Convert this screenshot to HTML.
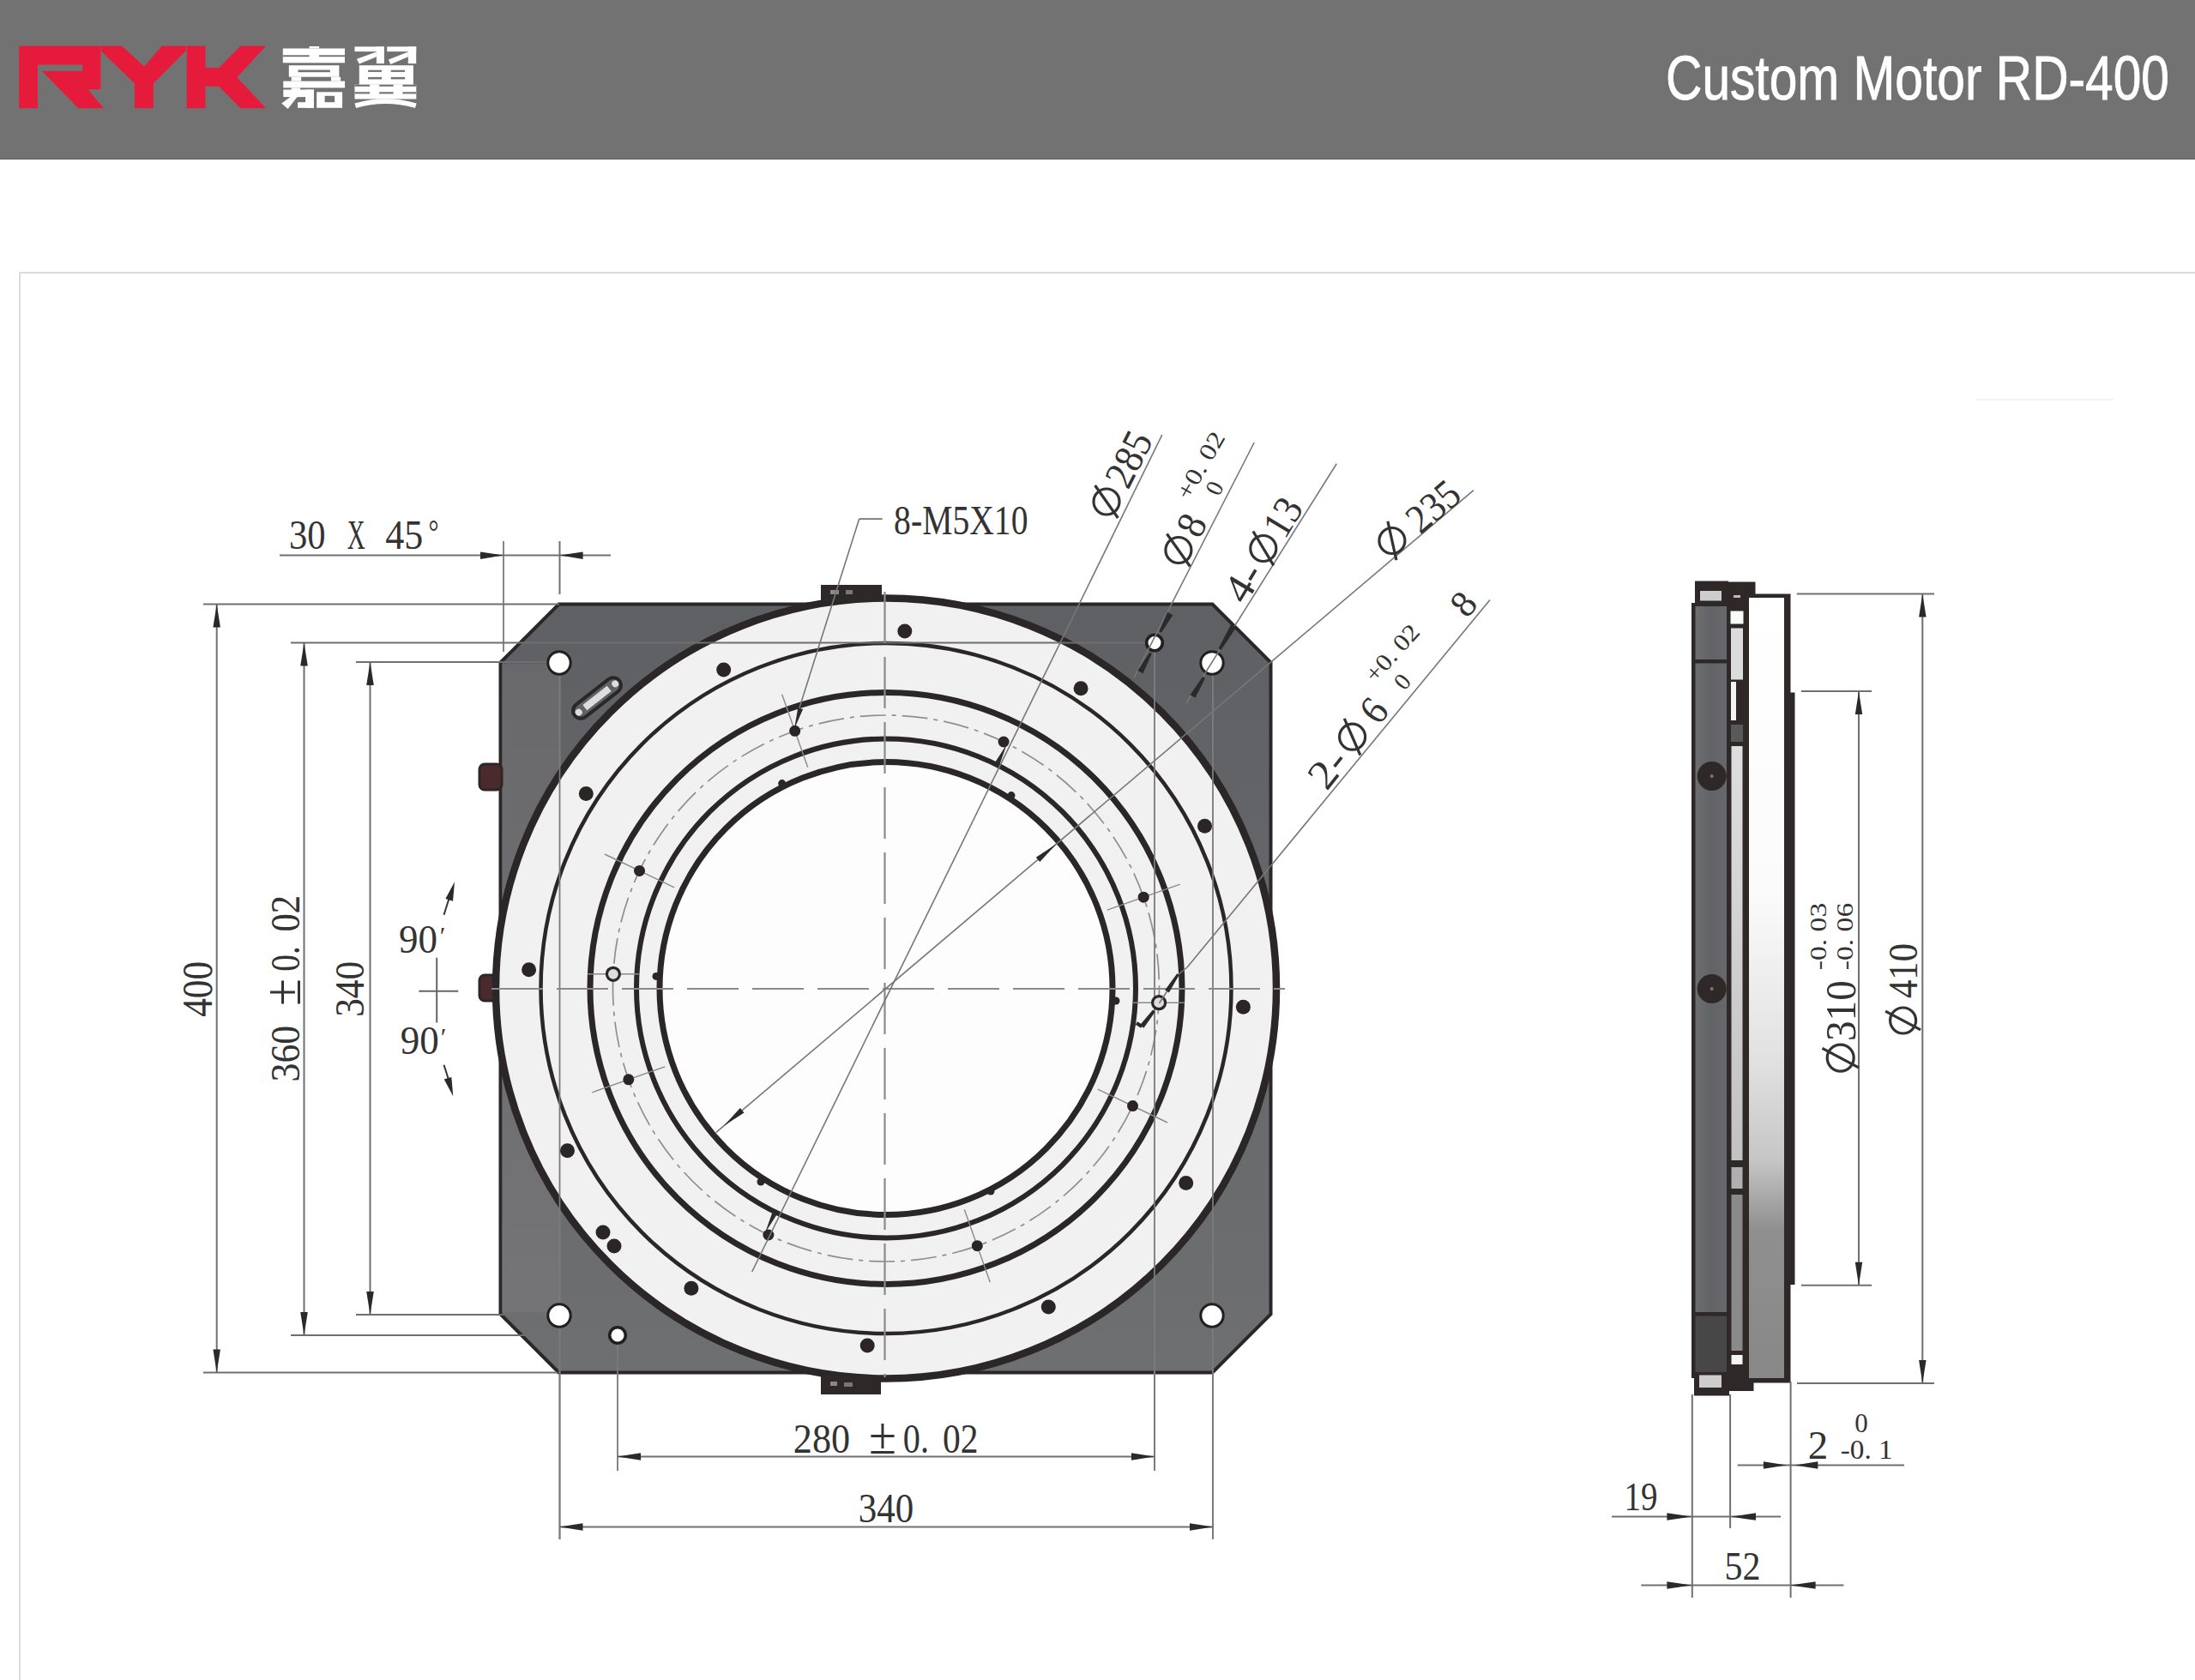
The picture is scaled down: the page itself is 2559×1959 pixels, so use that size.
<!DOCTYPE html>
<html><head><meta charset="utf-8"><style>
html,body{margin:0;padding:0;background:#fff;}
body{width:2559px;height:1959px;position:relative;overflow:hidden;font-family:"Liberation Sans",sans-serif;}
#hdr{position:absolute;left:0;top:0;width:2559px;height:185px;background:#727272;border-bottom:1px solid #5e5e5e;}
#box{position:absolute;left:22px;top:317px;width:2600px;height:1700px;border-left:2px solid #dcdcdc;border-top:2px solid #dcdcdc;}
svg{position:absolute;left:0;top:0;}
</style></head><body>
<div id="hdr"></div>
<div id="box"></div>
<svg width="2559" height="1959" viewBox="0 0 2559 1959">
<polygon points="22.1,53.5 117.4,53.5 117.4,104.3 102.6,104.3 120.9,126.2 91.3,126.2 48.9,82.8 96.2,82.8 96.2,75.4 44,75.4 44,126.2 22.1,126.2" fill="#e61b3c"/><polygon points="118.1,53.5 142.1,53.5 168.2,77.5 188.7,53.5 216.9,53.5 216.9,59.1 178.8,97.3 178.8,126.2 156.9,126.2 156.9,97.3 118.1,59.8" fill="#e61b3c"/><polygon points="217.7,53.5 239.5,53.5 239.5,78.9 255.1,78.9 280.5,53.5 310.2,53.5 276.3,90.2 310.2,126.2 280.5,126.2 255.1,100.8 239.5,100.8 239.5,126.2 217.7,126.2" fill="#e61b3c"/>
<rect x="329.8" y="56.5" width="72.2" height="16.8" fill="#fff"/><rect x="329.8" y="64.3" width="30.8" height="1.9" fill="#727272"/><rect x="372.1" y="64.3" width="29.9" height="1.9" fill="#727272"/><rect x="360.6" y="54" width="11.5" height="2.5" fill="#fff"/><rect x="336.8" y="76.2" width="58.6" height="13.5" fill="#fff"/><rect x="347.5" y="81.5" width="37.3" height="2.7" fill="#727272"/><rect x="339.7" y="89.7" width="11.5" height="4.9" fill="#fff"/><rect x="386" y="89.7" width="11.1" height="4.9" fill="#fff"/><rect x="330.3" y="94.6" width="71.8" height="7.8" fill="#fff"/><rect x="339.7" y="102.4" width="10.3" height="10.7" fill="#fff"/><rect x="330.3" y="104.5" width="35.7" height="8.6" fill="#fff"/><rect x="356.1" y="104.5" width="9.8" height="21.3" fill="#fff"/><rect x="347.1" y="119.2" width="18.9" height="6.6" fill="#fff"/><polygon points="339.7,112.2 347.1,112.2 335.6,127 328.2,120.4" fill="#fff"/><rect x="369.2" y="107.3" width="29.9" height="18.5" fill="#fff"/><rect x="378.6" y="111.8" width="11.5" height="7.4" fill="#727272"/><rect x="413.5" y="54.4" width="34.4" height="5.7" fill="#fff"/><rect x="438.9" y="54.4" width="9" height="19.7" fill="#fff"/><polygon points="415.9,68.8 438.9,60.6 438.9,66.3 418.8,74.5" fill="#fff"/><rect x="451.2" y="54.4" width="34" height="5.7" fill="#fff"/><rect x="475.8" y="54.4" width="9.4" height="19.7" fill="#fff"/><polygon points="452.9,69.6 475.8,60.6 475.8,66.3 455.3,74.9" fill="#fff"/><rect x="418.8" y="76.2" width="63.1" height="22.6" fill="#fff"/><rect x="429.1" y="81.7" width="16" height="2.2" fill="#727272"/><rect x="455.7" y="81.7" width="16.4" height="2.2" fill="#727272"/><rect x="429.1" y="89.9" width="16" height="2.5" fill="#727272"/><rect x="455.7" y="89.9" width="16.4" height="2.5" fill="#727272"/><rect x="413.5" y="98.7" width="71.8" height="16.8" fill="#fff"/><rect x="413.5" y="98.7" width="17.6" height="2.1" fill="#727272"/><rect x="442.2" y="98.7" width="16.4" height="2.1" fill="#727272"/><rect x="469.3" y="98.7" width="16" height="2.1" fill="#727272"/><rect x="413.5" y="107.3" width="17.6" height="2.1" fill="#727272"/><rect x="442.2" y="107.3" width="16.4" height="2.1" fill="#727272"/><rect x="469.3" y="107.3" width="16" height="2.1" fill="#727272"/><path d="M 414.3 123.3 Q 449.6 113.1 484.8 123.3" stroke="#fff" stroke-width="5.7" fill="none"/>
<text x="1942" y="115.5" font-family="Liberation Sans" font-size="73" fill="#fff" stroke="#fff" stroke-width="0.9" textLength="587" lengthAdjust="spacingAndGlyphs">Custom Motor RD-400</text>
<defs><linearGradient id="gp" x1="0" y1="0" x2="0" y2="1"><stop offset="0" stop-color="#5f6063"/><stop offset="1" stop-color="#6e6f71"/></linearGradient><linearGradient id="gl" x1="0" y1="0" x2="0" y2="1"><stop offset="0" stop-color="#69696c"/><stop offset="1" stop-color="#747476"/></linearGradient></defs>
<polygon points="583.5,772.5 651.5,704.5 1413.5,704.5 1481.5,772.5 1481.5,1532.5 1413.5,1600.5 651.5,1600.5 583.5,1532.5" fill="url(#gp)" stroke="#2b2627" stroke-width="4" stroke-linejoin="miter"/>
<polygon points="585.5,774.5 652,774.5 652,1530.5 585.5,1530.5" fill="url(#gl)"/>
<line x1="652.5" y1="772" x2="652.5" y2="1795" stroke="#7a7a7a" stroke-width="1.8" />
<line x1="1414" y1="773" x2="1414" y2="1795" stroke="#7a7a7a" stroke-width="1.8" />
<line x1="1346" y1="749.5" x2="1346" y2="1715" stroke="#7a7a7a" stroke-width="1.8" />
<line x1="720" y1="1557" x2="720" y2="1715" stroke="#7a7a7a" stroke-width="1.8" />
<line x1="587" y1="631" x2="587" y2="760" stroke="#7a7a7a" stroke-width="1.8" />
<rect x="559" y="891" width="26" height="30" rx="6" fill="#4a2a2c" stroke="#2b2627" stroke-width="3"/>
<rect x="559" y="1137" width="26" height="30" rx="6" fill="#4a2a2c" stroke="#2b2627" stroke-width="3"/>
<circle cx="1033" cy="1152.5" r="455" fill="#f1f1f1" stroke="#2b2627" stroke-width="8.5"/>
<rect x="957" y="682" width="71" height="19" fill="#2e2829"/>
<rect x="968" y="688" width="10" height="5" fill="#8a8a8a"/><rect x="986" y="688" width="8" height="5" fill="#777"/>
<rect x="957" y="1604" width="70" height="22" fill="#2e2829"/>
<rect x="968" y="1611" width="8" height="5" fill="#888"/><rect x="984" y="1612" width="10" height="5" fill="#777"/>
<circle cx="1033" cy="1152.5" r="402.5" fill="none" stroke="#2b2627" stroke-width="4.5"/>
<circle cx="1033" cy="1152.5" r="345" fill="none" stroke="#2b2627" stroke-width="7"/>
<circle cx="1033.0" cy="1152.5" r="318.5" fill="none" stroke="#8f8f8f" stroke-width="1.7" stroke-dasharray="30 7 5 7"/>
<circle cx="1033" cy="1152.5" r="291" fill="none" stroke="#2b2627" stroke-width="6"/>
<circle cx="1033" cy="1152.5" r="264" fill="#fdfdfd" stroke="#2b2627" stroke-width="7"/>
<line x1="339" y1="749.5" x2="1346" y2="749.5" stroke="#6f6f6f" stroke-width="1.8" />
<line x1="415" y1="772" x2="652" y2="772" stroke="#6f6f6f" stroke-width="1.8" />
<line x1="415" y1="1533" x2="652" y2="1533" stroke="#6f6f6f" stroke-width="1.8" />
<line x1="339" y1="1557" x2="720" y2="1557" stroke="#6f6f6f" stroke-width="1.8" />
<line x1="652.5" y1="772" x2="652.5" y2="1795" stroke="#7a7a7a" stroke-width="1.8" />
<line x1="1414" y1="773" x2="1414" y2="1795" stroke="#7a7a7a" stroke-width="1.8" />
<line x1="1346" y1="749.5" x2="1346" y2="1715" stroke="#7a7a7a" stroke-width="1.8" />
<line x1="573" y1="1153" x2="1498" y2="1153" stroke="#8a8a8a" stroke-width="2.2" stroke-dasharray="60 16"/>
<line x1="1031.5" y1="690" x2="1031.5" y2="1606" stroke="#8a8a8a" stroke-width="2.2" stroke-dasharray="60 16"/>
<circle cx="1054.8" cy="736.1" r="8.5" fill="#2b2526"/>
<circle cx="843.7" cy="781" r="8.5" fill="#2b2526"/>
<circle cx="683.3" cy="925.4" r="8.5" fill="#2b2526"/>
<circle cx="616.6" cy="1130.7" r="8.5" fill="#2b2526"/>
<circle cx="661.5" cy="1341.8" r="8.5" fill="#2b2526"/>
<circle cx="805.9" cy="1502.2" r="8.5" fill="#2b2526"/>
<circle cx="1011.2" cy="1568.9" r="8.5" fill="#2b2526"/>
<circle cx="1222.3" cy="1524" r="8.5" fill="#2b2526"/>
<circle cx="1382.7" cy="1379.6" r="8.5" fill="#2b2526"/>
<circle cx="1449.4" cy="1174.3" r="8.5" fill="#2b2526"/>
<circle cx="1404.5" cy="963.2" r="8.5" fill="#2b2526"/>
<circle cx="1260.1" cy="802.8" r="8.5" fill="#2b2526"/>
<circle cx="703" cy="1437" r="8.5" fill="#2b2526"/>
<circle cx="716" cy="1453" r="8.5" fill="#2b2526"/>
<line x1="1290.8" y1="1061.2" x2="1375.7" y2="1031.2" stroke="#8a8a8a" stroke-width="1.4" />
<circle cx="1333.2" cy="1046.2" r="6.5" fill="#2b2526"/>
<circle cx="1170.1" cy="865" r="6.5" fill="#2b2526"/>
<line x1="941.7" y1="894.7" x2="911.7" y2="809.8" stroke="#8a8a8a" stroke-width="1.4" />
<circle cx="926.7" cy="852.3" r="6.5" fill="#2b2526"/>
<line x1="786.1" y1="1034.8" x2="704.9" y2="996" stroke="#8a8a8a" stroke-width="1.4" />
<circle cx="745.5" cy="1015.4" r="6.5" fill="#2b2526"/>
<line x1="775.2" y1="1243.8" x2="690.3" y2="1273.8" stroke="#8a8a8a" stroke-width="1.4" />
<circle cx="732.8" cy="1258.8" r="6.5" fill="#2b2526"/>
<circle cx="895.9" cy="1440" r="6.5" fill="#2b2526"/>
<line x1="1124.3" y1="1410.3" x2="1154.3" y2="1495.2" stroke="#8a8a8a" stroke-width="1.4" />
<circle cx="1139.3" cy="1452.7" r="6.5" fill="#2b2526"/>
<line x1="1279.9" y1="1270.2" x2="1361.1" y2="1309" stroke="#8a8a8a" stroke-width="1.4" />
<circle cx="1320.5" cy="1289.6" r="6.5" fill="#2b2526"/>
<line x1="1321.1" y1="1169.2" x2="1381.1" y2="1169.2" stroke="#8a8a8a" stroke-width="1.6" />
<circle cx="1351.1" cy="1169.2" r="7.5" fill="#ddd" stroke="#2b2627" stroke-width="3.2"/>
<line x1="684.9" y1="1135.8" x2="744.9" y2="1135.8" stroke="#8a8a8a" stroke-width="1.6" />
<circle cx="714.9" cy="1135.8" r="7.5" fill="#ddd" stroke="#2b2627" stroke-width="3.2"/>
<circle cx="911.7" cy="913.6" r="4.5" fill="#2b2627"/>
<circle cx="1179" cy="927.6" r="4.5" fill="#2b2627"/>
<circle cx="765" cy="1138.5" r="4.5" fill="#2b2627"/>
<circle cx="1301" cy="1167" r="4.5" fill="#2b2627"/>
<circle cx="887" cy="1378" r="4.5" fill="#2b2627"/>
<circle cx="1155" cy="1389" r="4.5" fill="#2b2627"/>
<circle cx="652" cy="773" r="13.2" fill="#fff" stroke="#231f20" stroke-width="3"/>
<circle cx="1413" cy="773" r="13.2" fill="#fff" stroke="#231f20" stroke-width="3"/>
<circle cx="652" cy="1534" r="13.2" fill="#fff" stroke="#231f20" stroke-width="3"/>
<circle cx="1413" cy="1534" r="13.2" fill="#fff" stroke="#231f20" stroke-width="3"/>
<circle cx="1346" cy="749.5" r="9.3" fill="#fff" stroke="#231f20" stroke-width="3.6"/>
<circle cx="720" cy="1557" r="9.3" fill="#fff" stroke="#231f20" stroke-width="3.6"/>
<g transform="translate(696,814) rotate(-38)"><rect x="-33" y="-9" width="66" height="18" rx="9" fill="none" stroke="#2b2627" stroke-width="4"/><rect x="-18" y="-4" width="36" height="8" fill="#ddd"/><circle cx="-27" cy="0" r="4" fill="#ddd"/><circle cx="27" cy="0" r="4" fill="#ddd"/></g>
<line x1="2303" y1="466" x2="2464" y2="466" stroke="#f3f3f3" stroke-width="2" />
<line x1="237" y1="704.5" x2="652" y2="704.5" stroke="#707070" stroke-width="2" />
<line x1="237" y1="1600.5" x2="650" y2="1600.5" stroke="#707070" stroke-width="2" />
<line x1="252.7" y1="704.5" x2="252.7" y2="1600.5" stroke="#707070" stroke-width="2" />
<polygon points="252.7,704.5 256.9,731.5 248.4,731.5" fill="#2a2a2a"/>
<polygon points="252.7,1600.5 248.4,1573.5 256.9,1573.5" fill="#2a2a2a"/>
<text x="0" y="0" font-family="Liberation Serif" font-size="50" fill="#333" text-anchor="middle" dominant-baseline="central" stroke="#fff" stroke-width="0" textLength="65" lengthAdjust="spacingAndGlyphs" transform="translate(229.8,1153.3) rotate(-90)">400</text>
<line x1="354.5" y1="749.5" x2="354.5" y2="1557" stroke="#707070" stroke-width="2" />
<polygon points="354.5,749.5 358.8,776.5 350.2,776.5" fill="#2a2a2a"/>
<polygon points="354.5,1557 350.2,1530 358.8,1530" fill="#2a2a2a"/>
<text x="0" y="0" font-family="Liberation Serif" font-size="49.5" fill="#333" text-anchor="middle" dominant-baseline="central" stroke="#fff" stroke-width="0" textLength="65.7" lengthAdjust="spacingAndGlyphs" transform="translate(332.5,1228.6) rotate(-90)">360</text>
<text x="0" y="0" font-family="Liberation Serif" font-size="62" fill="#333" text-anchor="middle" textLength="32" lengthAdjust="spacingAndGlyphs" transform="translate(349.8,1157) rotate(-90)">±</text>
<text x="0" y="0" font-family="Liberation Serif" font-size="49.5" fill="#333" text-anchor="middle" dominant-baseline="central" stroke="#fff" stroke-width="0" textLength="29.5" lengthAdjust="spacingAndGlyphs" transform="translate(332.5,1118) rotate(-90)">0.</text>
<text x="0" y="0" font-family="Liberation Serif" font-size="49.5" fill="#333" text-anchor="middle" dominant-baseline="central" stroke="#fff" stroke-width="0" textLength="42.6" lengthAdjust="spacingAndGlyphs" transform="translate(332.5,1065.3) rotate(-90)">02</text>
<line x1="431.5" y1="772" x2="431.5" y2="1533" stroke="#707070" stroke-width="2" />
<polygon points="431.5,772 435.8,799 427.2,799" fill="#2a2a2a"/>
<polygon points="431.5,1533 427.2,1506 435.8,1506" fill="#2a2a2a"/>
<text x="0" y="0" font-family="Liberation Serif" font-size="49" fill="#333" text-anchor="middle" dominant-baseline="central" stroke="#fff" stroke-width="0" textLength="65" lengthAdjust="spacingAndGlyphs" transform="translate(407.7,1153.3) rotate(-90)">340</text>
<line x1="326" y1="647.6" x2="712" y2="647.6" stroke="#707070" stroke-width="2" />
<line x1="652.5" y1="631" x2="652.5" y2="693" stroke="#707070" stroke-width="2" />
<polygon points="587,647.6 560,651.9 560,643.4" fill="#2a2a2a"/>
<polygon points="652.6,647.6 679.6,643.4 679.6,651.9" fill="#2a2a2a"/>
<text x="0" y="0" font-family="Liberation Serif" font-size="48" fill="#333" text-anchor="middle" dominant-baseline="central" stroke="#fff" stroke-width="0" textLength="42.6" lengthAdjust="spacingAndGlyphs" transform="translate(358.3,623.8) rotate(0)">30</text>
<text x="0" y="0" font-family="Liberation Serif" font-size="48" fill="#333" text-anchor="middle" dominant-baseline="central" stroke="#fff" stroke-width="0" textLength="21" lengthAdjust="spacingAndGlyphs" transform="translate(415.2,623.8) rotate(0)">X</text>
<text x="0" y="0" font-family="Liberation Serif" font-size="48" fill="#333" text-anchor="middle" dominant-baseline="central" stroke="#fff" stroke-width="0" textLength="44" lengthAdjust="spacingAndGlyphs" transform="translate(471.3,623.8) rotate(0)">45</text>
<text x="0" y="0" font-family="Liberation Serif" font-size="40" fill="#333" text-anchor="middle" dominant-baseline="central" stroke="#fff" stroke-width="0" textLength="12" lengthAdjust="spacingAndGlyphs" transform="translate(505.4,620) rotate(0)">°</text>
<line x1="720" y1="1698.4" x2="1346" y2="1698.4" stroke="#707070" stroke-width="2" />
<polygon points="720,1698.4 747,1694.2 747,1702.7" fill="#2a2a2a"/>
<polygon points="1346,1698.4 1319,1702.7 1319,1694.2" fill="#2a2a2a"/>
<text x="0" y="0" font-family="Liberation Serif" font-size="49.5" fill="#333" text-anchor="middle" dominant-baseline="central" stroke="#fff" stroke-width="0" textLength="66.3" lengthAdjust="spacingAndGlyphs" transform="translate(958,1677.3) rotate(0)">280</text>
<text x="1029.1" y="1694.5" font-family="Liberation Serif" font-size="62" fill="#333" text-anchor="middle" textLength="32" lengthAdjust="spacingAndGlyphs">±</text>
<text x="0" y="0" font-family="Liberation Serif" font-size="49.5" fill="#333" text-anchor="middle" dominant-baseline="central" stroke="#fff" stroke-width="0" textLength="30.2" lengthAdjust="spacingAndGlyphs" transform="translate(1067.9,1677.3) rotate(0)">0.</text>
<text x="0" y="0" font-family="Liberation Serif" font-size="49.5" fill="#333" text-anchor="middle" dominant-baseline="central" stroke="#fff" stroke-width="0" textLength="41.5" lengthAdjust="spacingAndGlyphs" transform="translate(1119.8,1677.3) rotate(0)">02</text>
<line x1="652.5" y1="1780.4" x2="1414" y2="1780.4" stroke="#707070" stroke-width="2" />
<polygon points="652.5,1780.4 679.5,1776.2 679.5,1784.7" fill="#2a2a2a"/>
<polygon points="1414,1780.4 1387,1784.7 1387,1776.2" fill="#2a2a2a"/>
<text x="0" y="0" font-family="Liberation Serif" font-size="48" fill="#333" text-anchor="middle" dominant-baseline="central" stroke="#fff" stroke-width="0" textLength="64.5" lengthAdjust="spacingAndGlyphs" transform="translate(1033,1758.2) rotate(0)">340</text>
<line x1="488.3" y1="1155.8" x2="534.2" y2="1155.8" stroke="#666" stroke-width="2" />
<line x1="509.2" y1="1116.7" x2="509.2" y2="1192.5" stroke="#666" stroke-width="2" />
<line x1="517.5" y1="1066.7" x2="526" y2="1040" stroke="#333" stroke-width="2" />
<polygon points="530,1028.3 528,1050.7 519.4,1048.1" fill="#2a2a2a"/>
<line x1="517.5" y1="1241.7" x2="524" y2="1262" stroke="#333" stroke-width="2" />
<polygon points="528.3,1278.3 517.7,1258.5 526.3,1255.9" fill="#2a2a2a"/>
<text x="0" y="0" font-family="Liberation Serif" font-size="46" fill="#333" text-anchor="middle" dominant-baseline="central" stroke="#fff" stroke-width="0" textLength="45" lengthAdjust="spacingAndGlyphs" transform="translate(487.5,1095.4) rotate(0)">90</text>
<text x="0" y="0" font-family="Liberation Serif" font-size="30" fill="#333" text-anchor="middle" dominant-baseline="central" stroke="#fff" stroke-width="0" transform="translate(516,1090) rotate(0)">′</text>
<text x="0" y="0" font-family="Liberation Serif" font-size="46" fill="#333" text-anchor="middle" dominant-baseline="central" stroke="#fff" stroke-width="0" textLength="45" lengthAdjust="spacingAndGlyphs" transform="translate(489.2,1213) rotate(0)">90</text>
<text x="0" y="0" font-family="Liberation Serif" font-size="30" fill="#333" text-anchor="middle" dominant-baseline="central" stroke="#fff" stroke-width="0" transform="translate(517,1208) rotate(0)">′</text>
<line x1="1001.7" y1="605.1" x2="1028.7" y2="605.1" stroke="#777" stroke-width="1.8" />
<line x1="1001.7" y1="605.1" x2="931" y2="828.4" stroke="#777" stroke-width="1.6" />
<polygon points="926,850 930.3,825.2 936.1,826.9" fill="#2a2a2a"/>
<text x="0" y="0" font-family="Liberation Serif" font-size="47.5" fill="#333" text-anchor="middle" dominant-baseline="central" stroke="#fff" stroke-width="0" textLength="156.4" lengthAdjust="spacingAndGlyphs" transform="translate(1120.3,606.6) rotate(0)">8-M5X10</text>
<line x1="876.7" y1="1483" x2="1354.8" y2="507" stroke="#777" stroke-width="1.6" />
<line x1="1462.2" y1="516" x2="1322" y2="790" stroke="#777" stroke-width="1.6" />
<polygon points="1361.1,713.8 1351.3,736.3 1353.9,737.7 1367.3,717.2" fill="#2a2a2a"/>
<polygon points="1332.5,785.3 1342.8,762.2 1340.2,760.8 1326.3,781.9" fill="#2a2a2a"/>
<line x1="1558.2" y1="540.7" x2="1383" y2="820" stroke="#777" stroke-width="1.6" />
<polygon points="1435.5,727.6 1420.5,756.1 1423.5,757.9 1441.5,731.2" fill="#2a2a2a"/>
<polygon points="1393.5,813.8 1405,790.9 1402,789.1 1387.5,810.2" fill="#2a2a2a"/>
<line x1="834.7" y1="1320.6" x2="1718" y2="571.7" stroke="#777" stroke-width="1.6" />
<polygon points="1231.4,984.3 1212.3,1005.1 1207.8,999.7" fill="#2a2a2a"/>
<polygon points="843.9,1312.8 862.9,1292.1 867.5,1297.4" fill="#2a2a2a"/>
<line x1="1737" y1="699.5" x2="1384" y2="1128" stroke="#777" stroke-width="1.6" />
<line x1="1384" y1="1128" x2="1373" y2="1137" stroke="#777" stroke-width="1.6" />
<polygon points="1372.2,1135.2 1358.2,1154.5 1362.8,1157.5 1374.8,1136.8" fill="#2a2a2a"/>
<line x1="1360.5" y1="1156" x2="1351.5" y2="1169.8" stroke="#777" stroke-width="1.6" />
<polygon points="1344,1177.5 1329,1195.3 1333.4,1198.7 1346.8,1179.7" fill="#2a2a2a"/>
<line x1="1331.2" y1="1197" x2="1325" y2="1193" stroke="#2b2627" stroke-width="4" />
<polygon points="1173.9,867.4 1165.2,892.1 1159.8,889.4" fill="#2a2a2a"/>
<polygon points="892,1437.6 900.7,1412.9 906.1,1415.6" fill="#2a2a2a"/>
<circle cx="1290" cy="585" r="15" fill="none" stroke="#333" stroke-width="3.2"/>
<line x1="1303.4" y1="604" x2="1276.6" y2="566" stroke="#333" stroke-width="3.2"/>
<text x="0" y="0" font-family="Liberation Serif" font-size="48" fill="#333" text-anchor="middle" dominant-baseline="central" stroke="#fff" stroke-width="0" textLength="66" lengthAdjust="spacingAndGlyphs" transform="translate(1315.4,535) rotate(-63.1)">285</text>
<circle cx="1373.9" cy="641.5" r="15" fill="none" stroke="#333" stroke-width="3.2"/>
<line x1="1387.4" y1="660.5" x2="1360.4" y2="622.5" stroke="#333" stroke-width="3.2"/>
<text x="0" y="0" font-family="Liberation Serif" font-size="48" fill="#333" text-anchor="middle" dominant-baseline="central" stroke="#fff" stroke-width="0" textLength="22" lengthAdjust="spacingAndGlyphs" transform="translate(1388.6,612.1) rotate(-63.4)">8</text>
<text x="0" y="0" font-family="Liberation Serif" font-size="28" fill="#333" text-anchor="middle" dominant-baseline="central" stroke="#fff" stroke-width="0" textLength="86" lengthAdjust="spacingAndGlyphs" transform="translate(1399.4,542.5) rotate(-60)">+0. 02</text>
<text x="0" y="0" font-family="Liberation Serif" font-size="28" fill="#333" text-anchor="middle" dominant-baseline="central" stroke="#fff" stroke-width="0" transform="translate(1415.8,569.2) rotate(-63)">0</text>
<text x="0" y="0" font-family="Liberation Serif" font-size="48" fill="#333" text-anchor="middle" dominant-baseline="central" stroke="#fff" stroke-width="0" textLength="44" lengthAdjust="spacingAndGlyphs" transform="translate(1449.1,678.9) rotate(-58.9)">4-</text>
<circle cx="1472.8" cy="639.5" r="15" fill="none" stroke="#333" stroke-width="3.2"/>
<line x1="1484.8" y1="659.4" x2="1460.9" y2="619.5" stroke="#333" stroke-width="3.2"/>
<text x="0" y="0" font-family="Liberation Serif" font-size="48" fill="#333" text-anchor="middle" dominant-baseline="central" stroke="#fff" stroke-width="0" textLength="44" lengthAdjust="spacingAndGlyphs" transform="translate(1495.1,602.7) rotate(-58.9)">13</text>
<circle cx="1622.9" cy="630.5" r="15" fill="none" stroke="#333" stroke-width="3.2"/>
<line x1="1627.9" y1="653.2" x2="1617.9" y2="607.8" stroke="#333" stroke-width="3.2"/>
<text x="0" y="0" font-family="Liberation Serif" font-size="48" fill="#333" text-anchor="middle" dominant-baseline="central" stroke="#fff" stroke-width="0" textLength="66" lengthAdjust="spacingAndGlyphs" transform="translate(1670.3,590) rotate(-40.5)">235</text>
<text x="0" y="0" font-family="Liberation Serif" font-size="48" fill="#333" text-anchor="middle" dominant-baseline="central" stroke="#fff" stroke-width="0" textLength="44" lengthAdjust="spacingAndGlyphs" transform="translate(1547.5,895.7) rotate(-51.5)">2-</text>
<circle cx="1576.6" cy="859.2" r="15" fill="none" stroke="#333" stroke-width="3.2"/>
<line x1="1585.8" y1="880.5" x2="1567.3" y2="837.9" stroke="#333" stroke-width="3.2"/>
<text x="0" y="0" font-family="Liberation Serif" font-size="48" fill="#333" text-anchor="middle" dominant-baseline="central" stroke="#fff" stroke-width="0" textLength="22" lengthAdjust="spacingAndGlyphs" transform="translate(1601.3,828.1) rotate(-51.5)">6</text>
<text x="0" y="0" font-family="Liberation Serif" font-size="28" fill="#333" text-anchor="middle" dominant-baseline="central" stroke="#fff" stroke-width="0" textLength="80" lengthAdjust="spacingAndGlyphs" transform="translate(1622.9,761.4) rotate(-48)">+0. 02</text>
<text x="0" y="0" font-family="Liberation Serif" font-size="28" fill="#333" text-anchor="middle" dominant-baseline="central" stroke="#fff" stroke-width="0" transform="translate(1634.8,794.8) rotate(-50)">0</text>
<text x="0" y="0" font-family="Liberation Serif" font-size="44" fill="#333" text-anchor="middle" dominant-baseline="central" stroke="#fff" stroke-width="0" transform="translate(1706.2,704.3) rotate(-50)">8</text>
<defs><linearGradient id="gb" x1="0" y1="0" x2="0" y2="1"><stop offset="0" stop-color="#ffffff"/><stop offset="0.38" stop-color="#fbfbfb"/><stop offset="0.6" stop-color="#e0e0e0"/><stop offset="0.72" stop-color="#c6c6c6"/><stop offset="0.81" stop-color="#8f8f8f"/><stop offset="1" stop-color="#888888"/></linearGradient><linearGradient id="gs" x1="0" y1="0" x2="0" y2="1"><stop offset="0" stop-color="#dedede"/><stop offset="1" stop-color="#c2c2c2"/></linearGradient><linearGradient id="gps" x1="0" y1="0" x2="1" y2="0"><stop offset="0" stop-color="#6d6e70"/><stop offset="0.5" stop-color="#626366"/><stop offset="1" stop-color="#67686b"/></linearGradient></defs>
<rect x="1972" y="703" width="67" height="904" fill="#2e2829"/>
<rect x="2014" y="694" width="25" height="10" fill="#2e2829"/>
<rect x="1976.5" y="707" width="36.5" height="62" fill="url(#gps)"/>
<rect x="1976.5" y="773.5" width="36.5" height="756.5" fill="url(#gps)"/>
<rect x="1976.5" y="1534.5" width="36.5" height="65.5" fill="#474747"/>
<rect x="1976" y="677.5" width="39" height="25.5" fill="#2e2829"/>
<rect x="1982" y="689" width="25" height="11.5" fill="#cdcdcd"/>
<rect x="2015" y="678.5" width="31.5" height="16.5" fill="#2e2829"/>
<rect x="2021" y="694" width="8" height="3" fill="#bbb"/>
<rect x="1975" y="1600" width="41" height="27.5" fill="#2e2829"/>
<rect x="1981" y="1603.5" width="26" height="14.5" fill="#cdcdcd"/>
<rect x="2015" y="1607" width="29.5" height="15" fill="#2e2829"/>
<rect x="2017.5" y="712.5" width="15" height="15" fill="#fafafa"/>
<rect x="2018" y="732.5" width="14" height="60" fill="#dcdcdc"/>
<rect x="2018" y="795" width="6" height="45" fill="#f4f4f4"/>
<rect x="2018" y="845" width="14" height="20" fill="#595959"/>
<rect x="2018.5" y="870" width="13" height="483" fill="url(#gs)"/>
<rect x="2018.5" y="1361" width="13" height="25" fill="#b0b0b0"/>
<rect x="2018.5" y="1393" width="13" height="182" fill="#8a8a8a"/>
<rect x="2018.5" y="1580" width="13" height="11" fill="#f4f4f4"/>
<rect x="2035" y="692.5" width="52.5" height="920" fill="#2e2829"/>
<rect x="2080" y="807.5" width="12.5" height="690.5" fill="#2e2829"/>
<rect x="2039" y="697" width="41" height="910" fill="url(#gb)"/>
<circle cx="1995.7" cy="905" r="17" fill="#2e2829"/>
<circle cx="1995.7" cy="905" r="2" fill="#777"/>
<circle cx="1995.7" cy="1153" r="17" fill="#2e2829"/>
<circle cx="1995.7" cy="1153" r="2" fill="#777"/>
<line x1="2094.8" y1="692.4" x2="2255" y2="692.4" stroke="#707070" stroke-width="2" />
<line x1="2095" y1="1613" x2="2255" y2="1613" stroke="#707070" stroke-width="2" />
<line x1="2241.3" y1="692.4" x2="2241.3" y2="1613" stroke="#707070" stroke-width="2" />
<polygon points="2241.3,692.4 2245.6,719.4 2237.1,719.4" fill="#2a2a2a"/>
<polygon points="2241.3,1613 2237.1,1586 2245.6,1586" fill="#2a2a2a"/>
<circle cx="2218.6" cy="1190" r="15" fill="none" stroke="#333" stroke-width="3.2"/>
<line x1="2239.1" y1="1200.9" x2="2198.1" y2="1179.1" stroke="#333" stroke-width="3.2"/>
<text x="0" y="0" font-family="Liberation Serif" font-size="48" fill="#333" text-anchor="middle" dominant-baseline="central" stroke="#fff" stroke-width="0" textLength="64" lengthAdjust="spacingAndGlyphs" transform="translate(2218.6,1132) rotate(-90)">410</text>
<line x1="2099.9" y1="806.1" x2="2182" y2="806.1" stroke="#707070" stroke-width="2" />
<line x1="2099.9" y1="1498.8" x2="2182" y2="1498.8" stroke="#707070" stroke-width="2" />
<line x1="2167" y1="806.1" x2="2167" y2="1498.8" stroke="#707070" stroke-width="2" />
<polygon points="2167,806.1 2171.2,833.1 2162.8,833.1" fill="#2a2a2a"/>
<polygon points="2167,1498.8 2162.8,1471.8 2171.2,1471.8" fill="#2a2a2a"/>
<circle cx="2145.7" cy="1233.6" r="15.5" fill="none" stroke="#333" stroke-width="3.2"/>
<line x1="2166.9" y1="1244.9" x2="2124.5" y2="1222.3" stroke="#333" stroke-width="3.2"/>
<text x="0" y="0" font-family="Liberation Serif" font-size="50" fill="#333" text-anchor="middle" dominant-baseline="central" stroke="#fff" stroke-width="0" textLength="71" lengthAdjust="spacingAndGlyphs" transform="translate(2145.7,1178.6) rotate(-90)">310</text>
<text x="0" y="0" font-family="Liberation Serif" font-size="28" fill="#333" text-anchor="middle" dominant-baseline="central" stroke="#fff" stroke-width="0" textLength="78.5" lengthAdjust="spacingAndGlyphs" transform="translate(2119,1092) rotate(-90)">-0. 03</text>
<text x="0" y="0" font-family="Liberation Serif" font-size="28" fill="#333" text-anchor="middle" dominant-baseline="central" stroke="#fff" stroke-width="0" textLength="78.5" lengthAdjust="spacingAndGlyphs" transform="translate(2150.7,1092) rotate(-90)">-0. 06</text>
<line x1="1972.8" y1="1626" x2="1972.8" y2="1863" stroke="#707070" stroke-width="2" />
<line x1="2017.1" y1="1626" x2="2017.1" y2="1782" stroke="#707070" stroke-width="2" />
<line x1="2087.6" y1="1611" x2="2087.6" y2="1863" stroke="#707070" stroke-width="2" />
<line x1="2025.7" y1="1708.6" x2="2220" y2="1708.6" stroke="#707070" stroke-width="2" />
<polygon points="2082.9,1708.6 2055.9,1712.8 2055.9,1704.3" fill="#2a2a2a"/>
<polygon points="2092.4,1708.6 2119.4,1704.3 2119.4,1712.8" fill="#2a2a2a"/>
<text x="0" y="0" font-family="Liberation Serif" font-size="47" fill="#333" text-anchor="middle" dominant-baseline="central" stroke="#fff" stroke-width="0" transform="translate(2119.5,1684.8) rotate(0)">2</text>
<text x="0" y="0" font-family="Liberation Serif" font-size="31" fill="#333" text-anchor="middle" dominant-baseline="central" stroke="#fff" stroke-width="0" transform="translate(2170,1659) rotate(0)">0</text>
<text x="0" y="0" font-family="Liberation Serif" font-size="31" fill="#333" text-anchor="middle" dominant-baseline="central" stroke="#fff" stroke-width="0" textLength="61" lengthAdjust="spacingAndGlyphs" transform="translate(2176.2,1690.5) rotate(0)">-0. 1</text>
<line x1="1879" y1="1768.6" x2="2076" y2="1768.6" stroke="#707070" stroke-width="2" />
<polygon points="1972.4,1768.6 1943.4,1772.8 1943.4,1764.3" fill="#2a2a2a"/>
<polygon points="2018,1768.6 2047,1764.3 2047,1772.8" fill="#2a2a2a"/>
<text x="0" y="0" font-family="Liberation Serif" font-size="47" fill="#333" text-anchor="middle" dominant-baseline="central" stroke="#fff" stroke-width="0" textLength="39" lengthAdjust="spacingAndGlyphs" transform="translate(1912.9,1745.3) rotate(0)">19</text>
<line x1="1913.3" y1="1848.6" x2="2149.5" y2="1848.6" stroke="#707070" stroke-width="2" />
<polygon points="1972.4,1848.6 1943.4,1852.8 1943.4,1844.3" fill="#2a2a2a"/>
<polygon points="2087.6,1848.6 2116.6,1844.3 2116.6,1852.8" fill="#2a2a2a"/>
<text x="0" y="0" font-family="Liberation Serif" font-size="46" fill="#333" text-anchor="middle" dominant-baseline="central" stroke="#fff" stroke-width="0" textLength="42" lengthAdjust="spacingAndGlyphs" transform="translate(2031.5,1826.7) rotate(0)">52</text>
</svg>
</body></html>
